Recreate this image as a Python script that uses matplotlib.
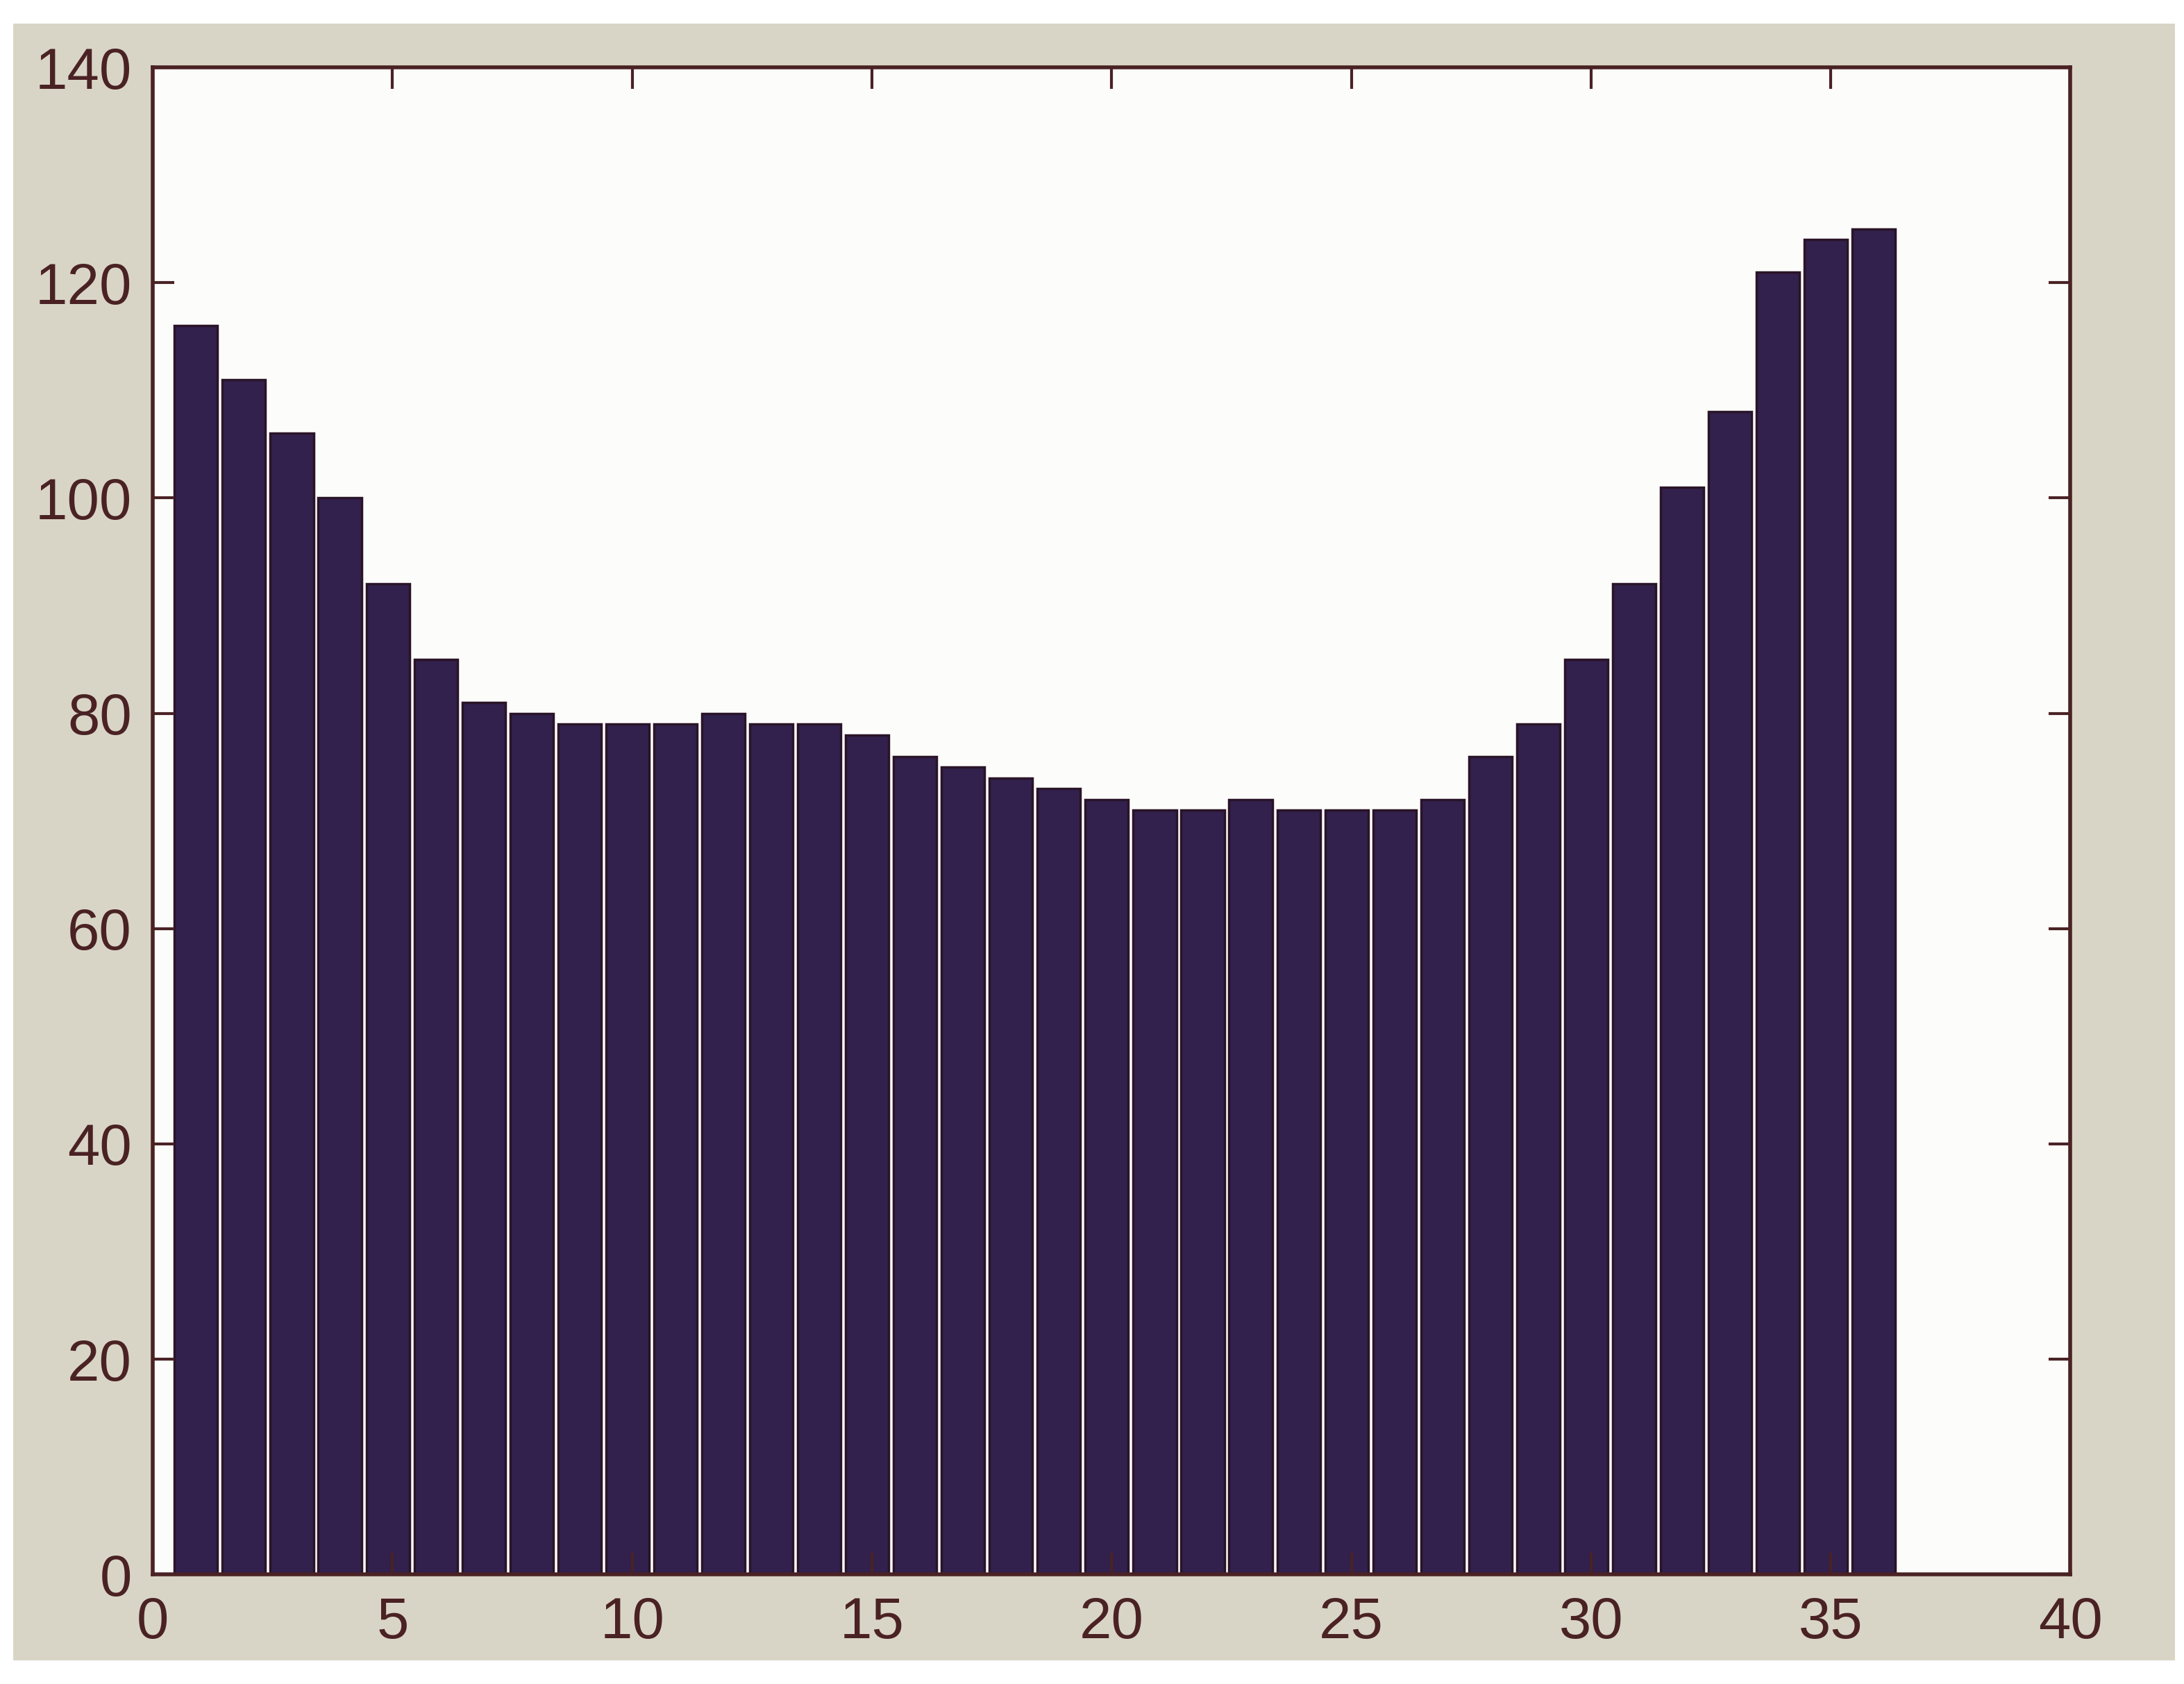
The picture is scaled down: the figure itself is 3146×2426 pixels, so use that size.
"""
Histograma de barras (estilo MATLAB) - 36 classes
"""
import numpy as np
import matplotlib.pyplot as plt
from matplotlib.patches import Rectangle

# Dados
centros = np.arange(36) + 0.9
contagens = [116, 111, 106, 100, 92, 85, 81, 80, 79, 79, 79, 80,
             79, 79, 78, 76, 75, 74, 73, 72, 71, 71, 72, 71,
             71, 71, 72, 76, 79, 85, 92, 101, 108, 121, 124, 125]
xticks = [0, 5, 10, 15, 20, 25, 30, 35, 40]
yticks = [0, 20, 40, 60, 80, 100, 120, 140]

# Cores
fundo = '#d9d5c6'
barra = '#32204d'
borda = '#2a1428'
eixo = '#4a2224'

plt.rcParams['font.family'] = ['Liberation Sans', 'DejaVu Sans']

fig = plt.figure(figsize=(31.46, 24.26), dpi=100, facecolor='white')
# moldura bege da janela do MATLAB
fig.patches.append(Rectangle((0.006, 0.014), 0.99, 0.972, transform=fig.transFigure,
                             facecolor=fundo, edgecolor='none', zorder=-1))

ax = fig.add_axes([0.070, 0.065, 0.878, 0.895])
ax.set_facecolor('#fcfcfa')
ax.bar(centros, contagens, width=0.9, color=barra, edgecolor=borda, linewidth=2.5)

ax.set_xlim(0, 40)
ax.set_ylim(0, 140)
ax.set_xticks(xticks)
ax.set_yticks(yticks)
ax.tick_params(direction='in', length=22, width=3, colors=eixo,
               top=True, right=True, labelsize=60, pad=22)
for s in ax.spines.values():
    s.set_color(eixo)
    s.set_linewidth(4)

fig.savefig('out.png', dpi=100, facecolor='white')
